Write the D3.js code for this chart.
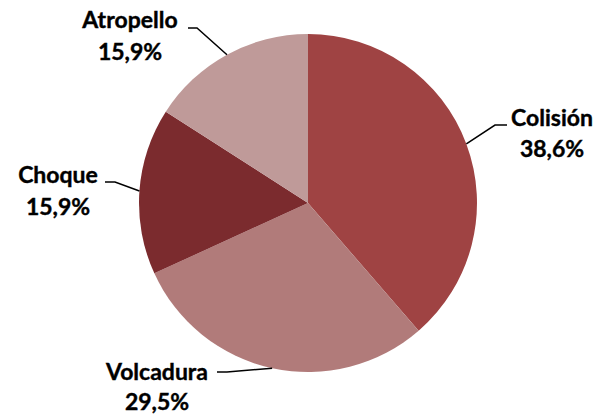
<!DOCTYPE html>
<html><head><meta charset="utf-8">
<script src="https://cdn.jsdelivr.net/npm/d3@7"></script>
<style>body{margin:0;background:#fff}</style>
</head><body>
<svg id="c" width="601" height="415"></svg>
<script>
const categories = ["Colisión", "Volcadura", "Choque", "Atropello"];
const values = [38.6, 29.5, 15.9, 15.9];
const labels = ["38,6%", "29,5%", "15,9%", "15,9%"];
const colors = ["#9F4343", "#B17B7A", "#7B2B2E", "#BF9A99"];
// label anchor positions (text center, first baseline) and leader elbow
const labelPos = [
  {x: 552, y: 126, dy: 31, elbow: [495, 125], end: [507, 125]},
  {x: 157, y: 380, dy: 30, elbow: [227, 372], end: [217, 372]},
  {x: 58, y: 183, dy: 32, elbow: [115, 182], end: [105, 182]},
  {x: 130, y: 28, dy: 32, elbow: [197, 28], end: [188, 28]}
];

const svg = d3.select("#c");
const cx = 308, cy = 203, r = 169;
const g = svg.append("g").attr("transform", `translate(${cx},${cy})`);
const pie = d3.pie().sort(null).value(d => d)(values);
const arc = d3.arc().innerRadius(0).outerRadius(r);
g.selectAll("path").data(pie).join("path")
  .attr("d", arc).attr("fill", (d, i) => colors[i]);

pie.forEach((d, i) => {
  const p = labelPos[i];
  const a = (d.startAngle + d.endAngle) / 2;
  const ex = cx + Math.sin(a) * r, ey = cy - Math.cos(a) * r;
  svg.append("polyline")
    .attr("points", `${ex},${ey} ${p.elbow[0]},${p.elbow[1]} ${p.end[0]},${p.end[1]}`)
    .attr("fill", "none").attr("stroke", "#000").attr("stroke-width", 1.5);
  const t = svg.append("text").attr("text-anchor", "middle")
    .attr("font-family", "Lato, 'Open Sans', sans-serif").attr("font-weight", "bold")
    .attr("font-size", 23).attr("fill", "#000")
    .attr("stroke", "#000").attr("stroke-width", 0.4);
  t.append("tspan").attr("x", p.x).attr("y", p.y).text(categories[i]);
  t.append("tspan").attr("x", p.x).attr("y", p.y + p.dy).text(labels[i]);
});
</script>
</body></html>
